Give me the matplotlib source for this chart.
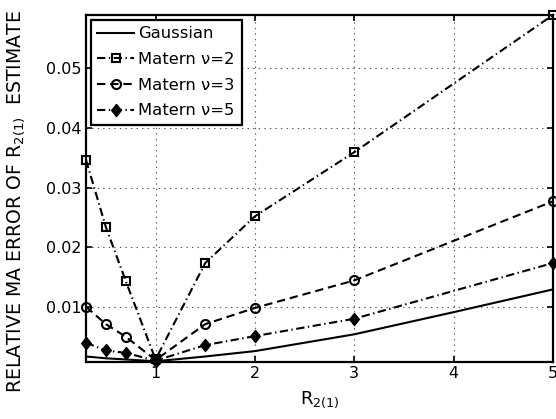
"""Relative MA error of R_2(1) estimate for Gaussian and Matern kernels."""

import matplotlib
matplotlib.use("Agg")
import matplotlib.pyplot as plt

plt.rcParams["font.family"] = ["DejaVu Sans"]
plt.rcParams["mathtext.fontset"] = "dejavusans"
plt.rcParams["lines.scale_dashes"] = False

# values
x_gauss = [0.3, 0.5, 0.7, 1.0, 1.5, 2.0, 3.0, 4.0, 5.0]
gauss = [0.0018, 0.0015, 0.0013, 0.0010, 0.0018, 0.0027, 0.0055, 0.0092, 0.0130]

x_matern = [0.3, 0.5, 0.7, 1.0, 1.5, 2.0, 3.0, 5.0]
matern2 = [0.0346, 0.0234, 0.0144, 0.0013, 0.0174, 0.0252, 0.0359, 0.0588]
matern3 = [0.0101, 0.0072, 0.0051, 0.0012, 0.0072, 0.0099, 0.0145, 0.0277]
matern5 = [0.0041, 0.0028, 0.0024, 0.0011, 0.0037, 0.0052, 0.0081, 0.0174]

x_ticks = [1, 2, 3, 4, 5]
y_ticks = [0.01, 0.02, 0.03, 0.04, 0.05]

DASHED = (0, (6, 3.5))
DASHDOT = (0, (6, 2.5, 1, 2.5))
DIAMOND = [(0, 1), (0.8, 0), (0, -1), (-0.8, 0), (0, 1)]

fig = plt.figure(figsize=(5.56, 4.19), dpi=100)
ax = fig.add_axes([86 / 556, 57.3 / 419, 467 / 556, 346.7 / 419])

lw = 1.5
ax.plot(x_gauss, gauss, color="black", lw=lw, label="Gaussian", clip_on=False)
ax.plot(x_matern, matern2, color="black", lw=lw, ls=DASHDOT, marker="s",
        ms=5.5, mfc="none", mew=1.5, label="Matern ν=2", clip_on=False)
ax.plot(x_matern, matern3, color="black", lw=lw, ls=DASHED, marker="o",
        ms=6.5, mfc="none", mew=1.5, label="Matern ν=3", clip_on=False)
ax.plot(x_matern, matern5, color="black", lw=lw, ls=DASHDOT, marker=DIAMOND,
        ms=9, mfc="black", mew=0.8, label="Matern ν=5", clip_on=False)

ax.set_xlim(0.3, 5)
ax.set_ylim(0.00093, 0.0588)
ax.set_xticks(x_ticks)
ax.set_yticks(y_ticks)
ax.set_xticklabels([str(t) for t in x_ticks])
ax.set_yticklabels([f"{t:.2f}" for t in y_ticks])
ax.tick_params(direction="in", length=4, width=1.2, top=True, right=True,
               labelsize=11.5, pad=3)
ax.grid(True, color="#555555", ls=(0, (1, 3)), lw=0.8)
for s in ax.spines.values():
    s.set_linewidth(1.6)

ax.set_xlabel(r"R$_{2(1)}$", fontsize=13)
ax.xaxis.set_label_coords(0.5, -0.08)
ax.set_ylabel(r"RELATIVE MA ERROR OF R$_{2(1)}$  ESTIMATE", fontsize=13.6)
ax.yaxis.set_label_coords(-0.126, 0.4606)

leg = ax.legend(loc="upper left", fontsize=11.8, fancybox=False, framealpha=1,
                edgecolor="black", borderaxespad=0.3, handlelength=2.2,
                handletextpad=0.3, borderpad=0.4, labelspacing=0.65)
leg.get_frame().set_linewidth(1.6)

fig.savefig("out.png", dpi=100)
